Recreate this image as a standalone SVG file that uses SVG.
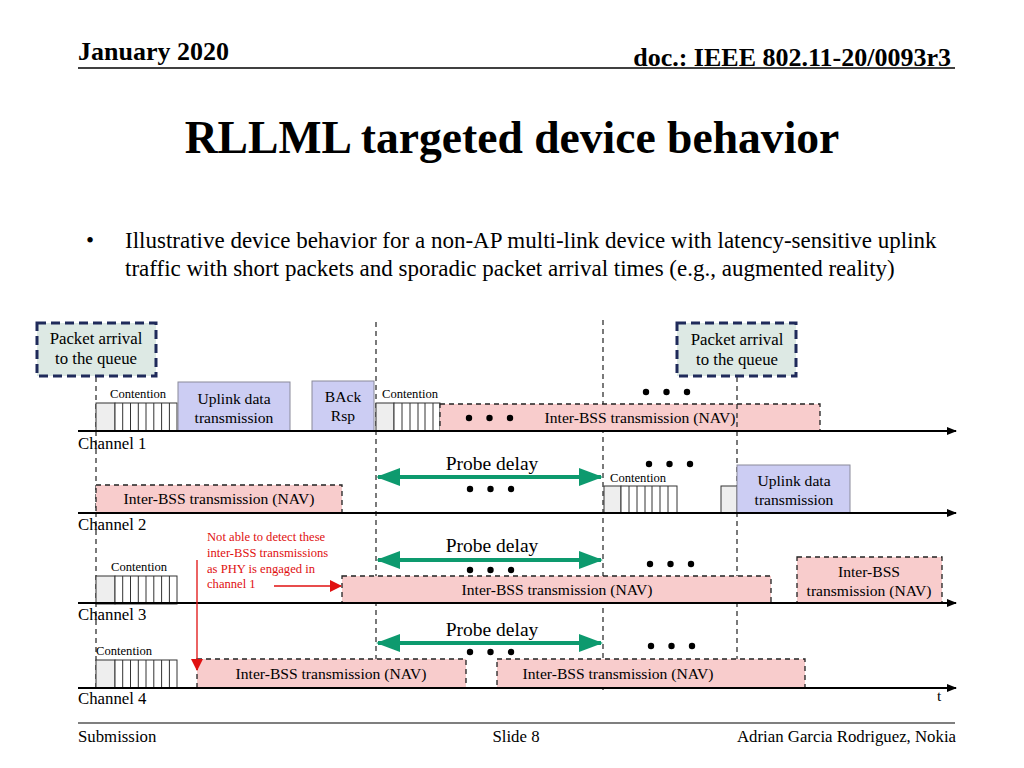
<svg xmlns="http://www.w3.org/2000/svg" width="1024" height="768" viewBox="0 0 1024 768">
<style>
text{font-family:"Liberation Serif","Times New Roman",serif;fill:#000}
.hdr{font-size:26px;font-weight:bold}
.ttl{font-size:45.6px;font-weight:bold}
.body{font-size:23px}
.lbl{font-size:15.6px}
.pak{font-size:16.8px}
.sm{font-size:12.6px}
.pd{font-size:19.5px}
.red{font-size:12.6px;fill:#e01010}
.ch{font-size:16.8px}
.ft{font-size:16.8px}
.axis{stroke:#000;stroke-width:2;fill:none}
.vd{stroke:#222;stroke-width:1.2;stroke-dasharray:5 4;fill:none}
.pa{fill:#dde9e4;stroke:#1f2a5a;stroke-width:3;stroke-dasharray:9 5}
.ul{fill:#cccdf3;stroke:#8a8a9a;stroke-width:1}
.nav{fill:#f8cccc;stroke:#222;stroke-width:1.3;stroke-dasharray:5 4}
.cg{fill:#eeeeee;stroke:#333;stroke-width:1}
.cs{fill:#fff;stroke:#333;stroke-width:1}
.pr{stroke:#0d9a6e;stroke-width:4;fill:none}
.dot{fill:#000}
</style>
<defs>
<marker id="ax" markerWidth="10" markerHeight="8" refX="9" refY="4" orient="auto" markerUnits="userSpaceOnUse"><path d="M0,0 L10,4 L0,8 Z" fill="#000"/></marker>
<marker id="gr" markerWidth="24" markerHeight="18" refX="22" refY="9" orient="auto-start-reverse" markerUnits="userSpaceOnUse"><path d="M0,0 L24,9 L0,18 Z" fill="#0d9a6e"/></marker>
<marker id="rd" markerWidth="12" markerHeight="12" refX="11" refY="6" orient="auto" markerUnits="userSpaceOnUse"><path d="M0,0 L12,6 L0,12 Z" fill="#e01010"/></marker>
<g id="cont">
<rect class="cg" x="0" y="0" width="19" height="28"/>
<rect class="cs" x="19" y="0" width="62" height="28"/>
<path d="M26.7,0V28M34.5,0V28M42.3,0V28M50,0V28M57.8,0V28M65.6,0V28M73.4,0V28" stroke="#333" stroke-width="1"/>
</g>
<g id="dots3">
<circle class="dot" cx="0" cy="0" r="3.2"/><circle class="dot" cx="20.5" cy="0" r="3.2"/><circle class="dot" cx="41" cy="0" r="3.2"/>
</g>
</defs>

<g id="header">
<text class="hdr" x="78" y="60">January 2020</text>
<text class="hdr" x="951" y="66" text-anchor="end">doc.: IEEE 802.11-20/0093r3</text>
<line x1="78" y1="68" x2="955" y2="68" stroke="#000" stroke-width="1.5"/>
</g>
<text class="ttl" x="512" y="153" text-anchor="middle">RLLML targeted device behavior</text>
<g id="bullet">
<text class="body" x="86" y="248">•</text>
<text class="body" x="125" y="248">Illustrative device behavior for a non-AP multi-link device with latency-sensitive uplink</text>
<text class="body" x="125" y="276">traffic with short packets and sporadic packet arrival times (e.g., augmented reality)</text>
</g>

<g id="guides">
<line class="vd" x1="96" y1="377" x2="96" y2="688"/>
<line class="vd" x1="376" y1="322" x2="376" y2="690"/>
<line class="vd" x1="603" y1="320" x2="603" y2="690"/>
<line class="vd" x1="737" y1="377" x2="737" y2="690"/>
</g>

<g id="pa1"><rect class="pa" x="37" y="323" width="119" height="53"/>
<text class="pak" x="96" y="344" text-anchor="middle">Packet arrival</text>
<text class="pak" x="96" y="364" text-anchor="middle">to the queue</text></g>
<g id="pa2"><rect class="pa" x="677" y="323" width="119" height="53"/>
<text class="pak" x="737" y="345" text-anchor="middle">Packet arrival</text>
<text class="pak" x="737" y="365" text-anchor="middle">to the queue</text></g>

<!-- Channel 1 -->
<g id="ch1-cont1"><use href="#cont" x="96" y="403"/><text class="sm" x="110" y="398">Contention</text></g>
<g id="ch1-ul"><rect class="ul" x="178" y="382" width="112" height="49"/>
<text class="lbl" x="234" y="404" text-anchor="middle">Uplink data</text>
<text class="lbl" x="234" y="423" text-anchor="middle">transmission</text></g>
<g id="ch1-back"><rect class="ul" x="312" y="381" width="62" height="50"/>
<text class="lbl" x="343" y="402" text-anchor="middle">BAck</text>
<text class="lbl" x="343" y="421" text-anchor="middle">Rsp</text></g>
<g id="ch1-cont2"><rect class="cg" x="376" y="403" width="18" height="28"/><rect class="cs" x="394" y="403" width="46" height="28"/>
<path d="M402,403V431M410,403V431M418,403V431M425,403V431M433,403V431" stroke="#333" stroke-width="1"/>
<text class="sm" x="382" y="398">Contention</text></g>
<g id="ch1-nav"><rect class="nav" x="440" y="404" width="380" height="27"/>
<use href="#dots3" x="469" y="418"/>
<text class="lbl" x="640" y="423" text-anchor="middle">Inter-BSS transmission (NAV)</text></g>
<use href="#dots3" x="646" y="392"/>
<line class="vd" x1="737" y1="404" x2="737" y2="431"/>

<!-- Channel 2 -->
<g id="ch2-nav"><rect class="nav" x="96" y="485" width="246" height="28"/>
<text class="lbl" x="219" y="504" text-anchor="middle">Inter-BSS transmission (NAV)</text></g>
<g id="ch2-probe"><text class="pd" x="492" y="470" text-anchor="middle">Probe delay</text>
<use href="#dots3" x="470" y="489"/></g>
<use href="#dots3" x="649" y="464"/>
<g id="ch2-cont"><rect class="cg" x="604" y="486" width="17" height="27"/><rect class="cs" x="621" y="486" width="56" height="27"/>
<path d="M629,486V513M637,486V513M645,486V513M652,486V513M660,486V513M668,486V513" stroke="#333" stroke-width="1"/>
<text class="sm" x="610" y="482">Contention</text></g>
<rect class="cg" x="721" y="486" width="16" height="27"/>
<g id="ch2-ul"><rect class="ul" x="737" y="465" width="113" height="48"/>
<text class="lbl" x="794" y="486" text-anchor="middle">Uplink data</text>
<text class="lbl" x="794" y="505" text-anchor="middle">transmission</text></g>

<!-- Channel 3 -->
<g id="ch3-cont"><use href="#cont" x="96" y="576"/><text class="sm" x="111" y="571">Contention</text></g>
<g id="ch3-note">
<text class="red" x="207" y="541">Not able to detect these</text>
<text class="red" x="207" y="557">inter-BSS transmissions</text>
<text class="red" x="207" y="573">as PHY is engaged in</text>
<text class="red" x="207" y="588">channel 1</text></g>
<g id="ch3-nav1"><rect class="nav" x="342" y="576" width="429" height="27"/>
<text class="lbl" x="557" y="595" text-anchor="middle">Inter-BSS transmission (NAV)</text></g>
<g id="ch3-nav2"><rect class="nav" x="797" y="557" width="145" height="46"/>
<text class="lbl" x="869" y="577" text-anchor="middle">Inter-BSS</text>
<text class="lbl" x="869" y="596" text-anchor="middle">transmission (NAV)</text></g>
<g id="ch3-probe"><text class="pd" x="492" y="552" text-anchor="middle">Probe delay</text>
<use href="#dots3" x="470" y="570"/></g>
<use href="#dots3" x="650" y="564"/>

<!-- Channel 4 -->
<g id="ch4-cont"><use href="#cont" x="96" y="660"/><text class="sm" x="96" y="655">Contention</text></g>
<g id="ch4-nav1"><rect class="nav" x="197" y="659" width="269" height="29"/>
<text class="lbl" x="331" y="679" text-anchor="middle">Inter-BSS transmission (NAV)</text></g>
<g id="ch4-nav2"><rect class="nav" x="497" y="659" width="308" height="29"/>
<text class="lbl" x="618" y="679" text-anchor="middle">Inter-BSS transmission (NAV)</text></g>
<g id="ch4-probe"><text class="pd" x="492" y="636" text-anchor="middle">Probe delay</text>
<use href="#dots3" x="470" y="652"/></g>
<use href="#dots3" x="651" y="646"/>

<g id="connectors">
<line class="axis" x1="78" y1="431" x2="956" y2="431" marker-end="url(#ax)"/>
<line class="axis" x1="78" y1="513" x2="956" y2="513" marker-end="url(#ax)"/>
<line class="axis" x1="78" y1="603" x2="956" y2="603" marker-end="url(#ax)"/>
<line class="axis" x1="78" y1="688" x2="956" y2="688" marker-end="url(#ax)"/>
<line class="pr" x1="378" y1="477" x2="601" y2="477" marker-start="url(#gr)" marker-end="url(#gr)"/>
<line class="pr" x1="378" y1="560" x2="601" y2="560" marker-start="url(#gr)" marker-end="url(#gr)"/>
<line class="pr" x1="378" y1="643" x2="601" y2="643" marker-start="url(#gr)" marker-end="url(#gr)"/>
<line x1="274" y1="586" x2="341" y2="586" stroke="#e01010" stroke-width="1.3" marker-end="url(#rd)"/>
<line x1="197" y1="560" x2="197" y2="670" stroke="#e01010" stroke-width="1.3" marker-end="url(#rd)"/>
</g>

<g id="labels">
<text class="ch" x="78" y="449">Channel 1</text>
<text class="ch" x="78" y="530">Channel 2</text>
<text class="ch" x="78" y="620">Channel 3</text>
<text class="ch" x="78" y="704">Channel 4</text>
<text class="lbl" x="937" y="701">t</text>
</g>

<g id="footer">
<line x1="78" y1="723" x2="955" y2="723" stroke="#000" stroke-width="1.2"/>
<text class="ft" x="78" y="742">Submission</text>
<text class="ft" x="516" y="742" text-anchor="middle">Slide 8</text>
<text class="ft" x="956" y="742" text-anchor="end">Adrian Garcia Rodriguez, Nokia</text>
</g>
</svg>
